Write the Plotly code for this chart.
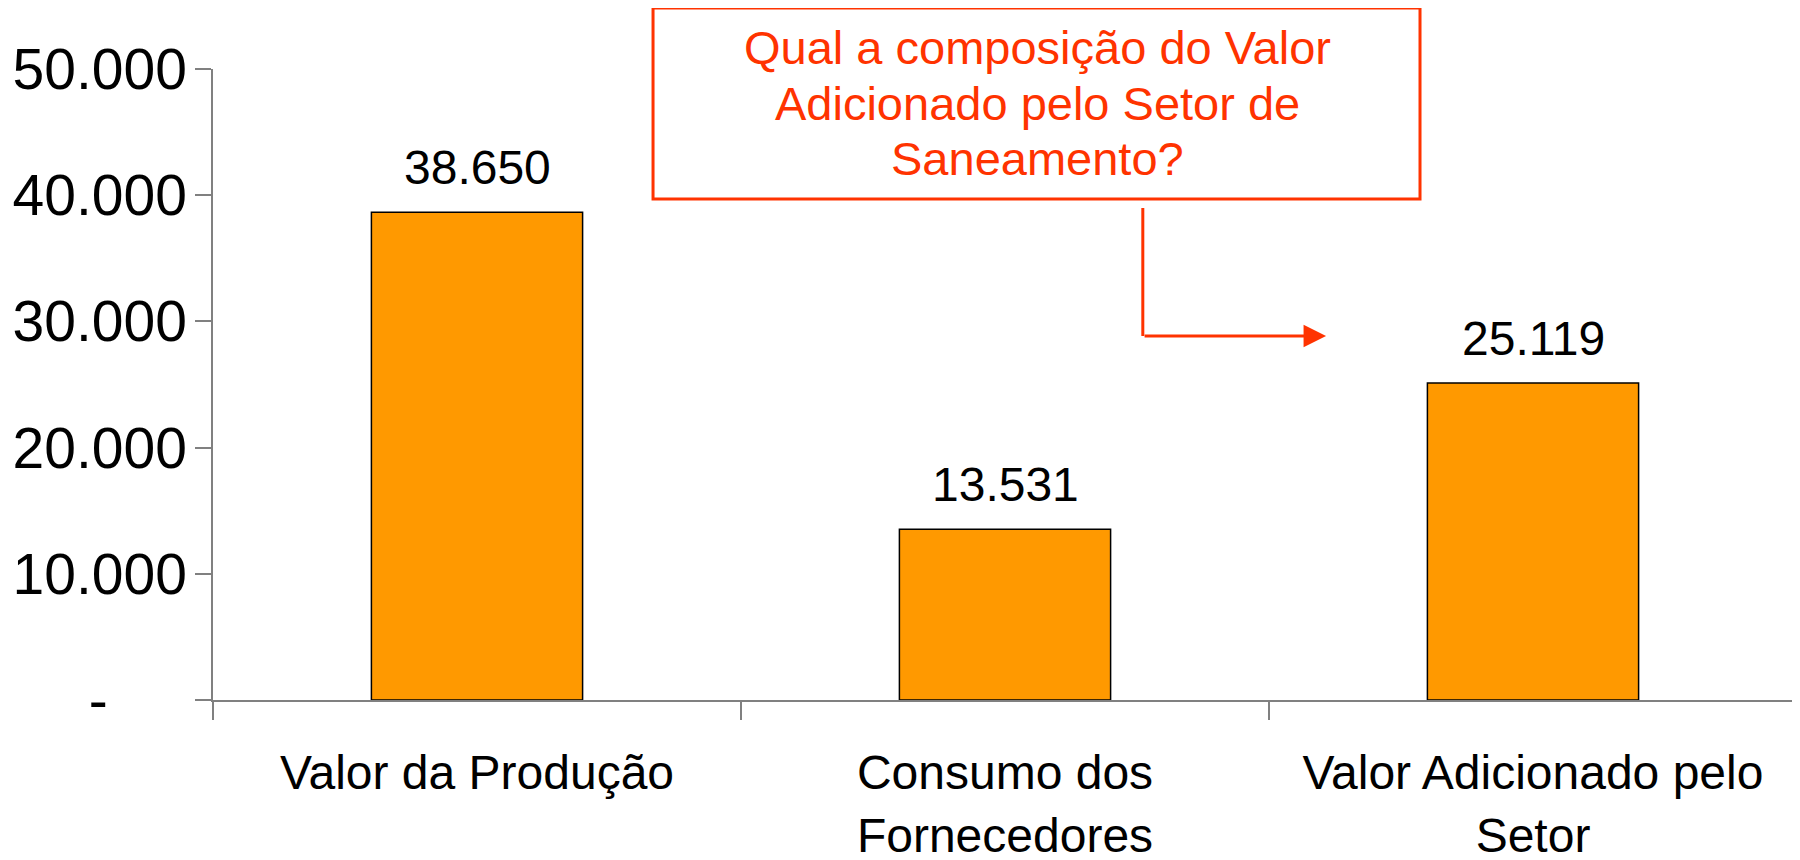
"""Valor Adicionado pelo Setor de Saneamento - barras com anotação."""
import plotly.graph_objects as go

categorias = ["Valor da Produção", "Consumo dos<br>Fornecedores", "Valor Adicionado pelo<br>Setor"]
valores = [38650, 13531, 25119]
y_ticks = [0, 10000, 20000, 30000, 40000, 50000]
y_ticktext = ["-" + "\u00a0" * 5, "10.000", "20.000", "30.000", "40.000", "50.000"]
pergunta = ["Qual a composição do Valor", "Adicionado pelo Setor de", "Saneamento?"]

FONTE = "Liberation Sans, Arial, sans-serif"
LARANJA = "#FF9900"
VERMELHO = "#FF3300"
CINZA = "#808080"


def fmt(v):
    return f"{v:,}".replace(",", ".")


fig = go.Figure()
fig.add_trace(go.Bar(
    x=categorias, y=valores, width=0.4,
    marker=dict(color=LARANJA, line=dict(color="black", width=1.5)),
    hoverinfo="skip",
))

# rótulos de valor acima das barras
for c, v in zip(categorias, valores):
    fig.add_annotation(x=c, y=v, text=fmt(v), showarrow=False, yanchor="bottom",
                       yshift=16, font=dict(size=48, color="black", family=FONTE))

# caixa com a pergunta (uma anotação por linha para controlar o espaçamento)
fig.add_shape(type="rect", xref="paper", yref="paper", x0=0.2778, x1=0.762, y0=0.794, y1=1.0967,
              line=dict(color=VERMELHO, width=3), fillcolor="white", layer="above")
for i, linha in enumerate(pergunta):
    fig.add_annotation(xref="paper", yref="paper", x=0.5208, y=1.0333 - i * 0.0872,
                       xanchor="center", yanchor="middle", text=linha, showarrow=False,
                       font=dict(size=47, color=VERMELHO, family=FONTE))

# seta em cotovelo
fig.add_shape(type="line", xref="paper", yref="paper", x0=0.587, x1=0.587, y0=0.7797, y1=0.5769,
              line=dict(color=VERMELHO, width=3))
fig.add_annotation(xref="paper", yref="paper", x=0.7027, y=0.5769, ax=-183, ay=0, text="",
                   showarrow=True, arrowhead=2, arrowsize=1.5, arrowwidth=3, arrowcolor=VERMELHO)

fig.update_layout(
    width=1800, height=860,
    margin=dict(l=205, r=11, t=61, b=168),
    paper_bgcolor="white", plot_bgcolor="white",
    showlegend=False,
    font=dict(family=FONTE, size=48, color="black"),
    xaxis=dict(
        type="category", tickson="boundaries", ticks="outside", ticklen=18,
        tickcolor=CINZA, tickwidth=1.5, showline=True, linecolor=CINZA, linewidth=1.5,
        showgrid=False, tickfont=dict(size=48, color="black"), ticklabelstandoff=30,
        automargin=False, fixedrange=True,
    ),
    yaxis=dict(
        range=[0, 50000], tickvals=y_ticks, ticktext=y_ticktext,
        ticks="outside", ticklen=16, tickcolor=CINZA, tickwidth=1.5,
        showline=True, linecolor=CINZA, linewidth=1.5, showgrid=False, zeroline=False,
        tickfont=dict(size=57, color="black"), ticklabelstandoff=-3,
        automargin=False, fixedrange=True,
    ),
)

fig.write_html("out.html")
